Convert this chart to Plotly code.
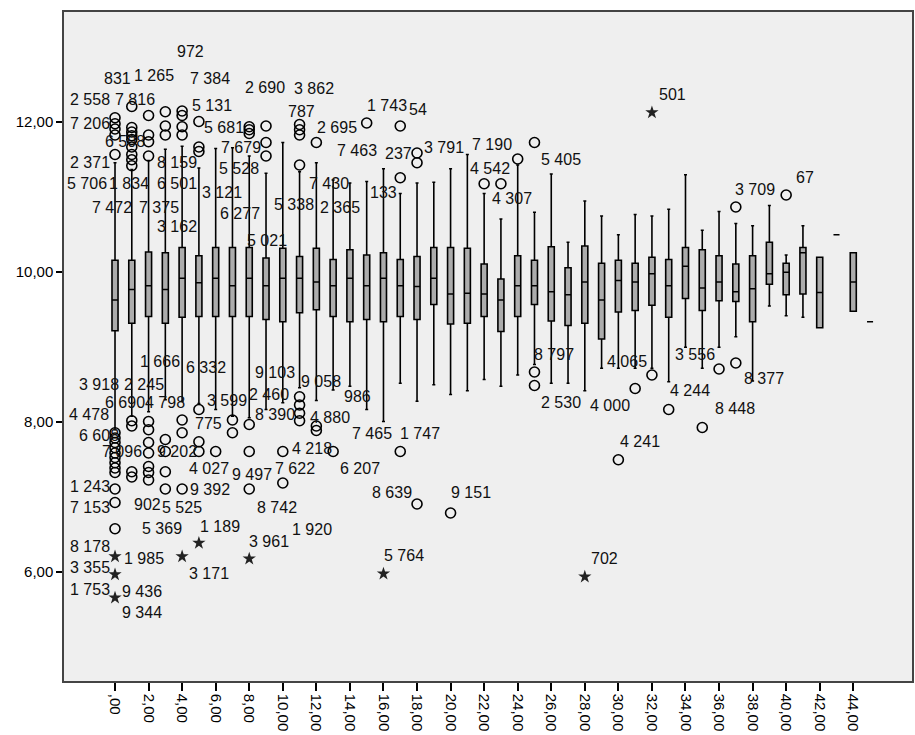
import plotly.graph_objects as go

# ---- data -------------------------------------------------------------
categories = list(range(46))
tick_vals = list(range(0, 45, 2))
tick_text = [",00"] + [f"{v},00" for v in range(2, 45, 2)]

q1 = [9.21, 9.31, 9.40, 9.31, 9.39, 9.40, 9.40, 9.40, 9.40, 9.36,
      9.33, 9.45, 9.49, 9.40, 9.33, 9.36, 9.33, 9.40, 9.36, 9.56,
      9.30, 9.31, 9.40, 9.20, 9.40, 9.56, 9.34, 9.28, 9.31, 9.10,
      9.46, 9.48, 9.55, 9.39, 9.64, 9.48, 9.61, 9.60, 9.33, 9.83,
      9.69, 9.70, 9.25, 10.49, 9.47, 9.33]
median = [9.62, 9.76, 9.81, 9.76, 9.91, 9.85, 9.91, 9.81, 9.91, 9.81,
          9.91, 9.91, 9.86, 9.81, 9.91, 9.81, 9.91, 9.81, 9.80, 9.91,
          9.70, 9.71, 9.70, 9.62, 9.81, 9.81, 9.73, 9.69, 9.86, 9.62,
          9.88, 9.86, 9.97, 9.81, 10.07, 9.78, 9.86, 9.73, 9.77, 9.97,
          9.99, 10.25, 9.72, 10.49, 9.86, 9.33]
q3 = [10.15, 10.15, 10.26, 10.25, 10.32, 10.21, 10.32, 10.32, 10.32, 10.18,
      10.31, 10.20, 10.31, 10.16, 10.29, 10.22, 10.25, 10.16, 10.20, 10.32,
      10.32, 10.31, 10.10, 9.90, 10.21, 10.15, 10.33, 10.05, 10.34, 10.11,
      10.15, 10.11, 10.19, 10.16, 10.32, 10.29, 10.21, 10.10, 10.21, 10.39,
      10.11, 10.32, 10.19, 10.49, 10.25, 9.33]
whisker_low = [7.89, 8.07, 8.13, 8.29, 8.27, 8.24, 8.16, 8.07, 8.05, 8.16,
               8.25, 8.45, 8.28, 8.42, 8.47, 8.16, 8.00, 8.51, 8.27, 8.49,
               8.36, 8.41, 8.56, 8.47, 8.62, 8.76, 8.51, 8.51, 8.41, 8.71,
               8.71, 8.71, 8.71, 8.53, 8.99, 8.71, 8.99, 9.13, 8.54, 9.54,
               9.41, 9.39, 9.25, 10.49, 9.47, 9.33]
whisker_high = [11.45, 11.36, 11.48, 11.63, 11.67, 11.38, 11.64, 11.65, 11.54, 11.31,
                11.72, 11.33, 11.45, 11.22, 11.18, 11.20, 11.37, 11.04, 11.18, 11.19,
                11.37, 11.56, 11.04, 10.70, 11.42, 10.79, 11.30, 10.39, 10.94, 10.74,
                10.49, 10.76, 10.74, 10.83, 11.29, 10.55, 10.80, 10.64, 10.61, 10.88,
                10.22, 10.61, 10.19, 10.49, 10.25, 9.33]

# outliers (circles)
outlier_cat = ([0] * 5 + [1] * 9 + [2] * 4 + [3] * 3 + [4] * 4 + [5] * 3 + [8] * 3 + [9] * 3
               + [11] * 4 + [12] + [15] + [17] * 2 + [18] * 2 + [22, 23, 24, 25, 37, 40]
               + [0] * 12 + [1] * 4 + [2] * 7 + [3] * 4 + [4] * 3 + [5] * 3 + [6] + [7] * 2
               + [8] * 3 + [10] * 2 + [11] * 4 + [12] * 2 + [13, 17, 18, 20] + [25] * 2
               + [30, 31, 32, 33, 35, 36, 37])
outlier_val = ([12.05, 11.97, 11.90, 11.82, 11.56]
               + [12.20, 11.92, 11.86, 11.81, 11.76, 11.66, 11.56, 11.49, 11.41]
               + [12.08, 11.82, 11.73, 11.54]
               + [12.13, 11.94, 11.82]
               + [12.14, 12.08, 11.93, 11.82]
               + [12.00, 11.66, 11.60]
               + [11.93, 11.89, 11.84]
               + [11.94, 11.72, 11.54]
               + [11.96, 11.89, 11.82, 11.42]
               + [11.72] + [11.98] + [11.94, 11.25] + [11.58, 11.45]
               + [11.17, 11.17, 11.50, 11.72, 10.86, 11.02]
               + [7.85, 7.78, 7.72, 7.65, 7.58, 7.52, 7.45, 7.38, 7.32, 7.10, 6.92, 6.57]
               + [8.01, 7.94, 7.33, 7.26]
               + [8.00, 7.89, 7.72, 7.58, 7.40, 7.32, 7.22]
               + [7.76, 7.60, 7.33, 7.10]
               + [8.02, 7.85, 7.10]
               + [8.16, 7.73, 7.60]
               + [7.60]
               + [8.02, 7.85]
               + [7.96, 7.60, 7.10]
               + [7.60, 7.18]
               + [8.33, 8.22, 8.11, 8.01]
               + [7.94, 7.88]
               + [7.60, 7.60, 6.90, 6.78]
               + [8.66, 8.48]
               + [7.49, 8.44, 8.62, 8.16, 7.92, 8.70, 8.78])

# extremes (stars)
extreme_cat = [0, 0, 0, 4, 5, 8, 16, 28, 32]
extreme_val = [6.20, 5.96, 5.65, 6.20, 6.38, 6.17, 5.97, 5.93, 12.12]

# case labels (text, x in category units, y in value units)
label_text = ["972", "831", "1 265", "7 384", "2 690", "3 862", "2 558", "7 816", "5 131", "787",
              "7 206", "5 681", "2 695", "6 508", "7 679", "7 463", "2 371", "8 159", "5 528",
              "5 706", "1 834", "6 501", "7 430", "3 121", "7 472", "7 375", "5 338", "2 365",
              "6 277", "3 162", "5 021", "1 743", "54", "237", "3 791", "7 190", "4 542", "5 405",
              "133", "4 307", "501", "3 709", "67",
              "1 666", "6 332", "9 103", "3 918", "2 245", "9 058", "986", "6 690", "4 798",
              "3 599", "2 460", "4 478", "8 390", "4 880", "775", "6 608", "7 096", "9 202",
              "4 218", "4 027", "9 497", "7 622", "6 207", "1 243", "9 392", "7 153", "902",
              "5 525", "8 742", "5 369", "1 189", "1 920", "3 961", "8 178", "1 985", "3 355",
              "3 171", "1 753", "9 436", "9 344", "7 465", "1 747", "8 639", "9 151", "5 764",
              "702", "8 797", "2 530", "4 000", "4 065", "3 556", "4 244", "8 377", "8 448", "4 241"]
label_x = [3.58, -0.78, 1.01, 4.35, 7.63, 10.55, -2.80, -0.12, 4.47, 10.20,
           -2.80, 5.19, 11.93, -0.72, 6.20, 13.12, -2.80, 2.39, 6.08,
           -2.98, -0.48, 2.39, 11.45, 5.07, -1.49, 1.31, 9.36, 12.10,
           6.14, 2.39, 7.75, 14.91, 17.41, 15.98, 18.31, 21.17, 21.05, 25.28,
           15.09, 22.36, 32.32, 36.83, 40.46,
           1.37, 4.11, 8.23, -2.27, 0.42, 10.97, 13.54, -0.72, 1.67,
           5.37, 7.87, -2.86, 8.23, 11.51, 4.65, -2.27, -0.89, 2.39,
           10.44, 4.29, 6.86, 9.42, 13.30, -2.80, 4.35, -2.80, 1.01,
           2.68, 8.35, 1.49, 4.95, 10.44, 7.87, -2.80, 0.42, -2.80,
           4.29, -2.80, 0.30, 0.30, 14.01, 16.88, 15.21, 19.92, 15.92,
           28.26, 24.87, 25.28, 28.21, 29.22, 33.27, 32.98, 37.39, 35.66, 29.99]
label_y = [12.93, 12.58, 12.61, 12.58, 12.46, 12.44, 12.30, 12.30, 12.22, 12.14,
           11.98, 11.92, 11.92, 11.73, 11.66, 11.62, 11.45, 11.45, 11.37,
           11.18, 11.18, 11.18, 11.18, 11.06, 10.86, 10.86, 10.90, 10.86,
           10.78, 10.60, 10.42, 12.22, 12.16, 11.57, 11.65, 11.69, 11.38, 11.50,
           11.05, 10.97, 12.36, 11.10, 11.25,
           8.80, 8.72, 8.65, 8.49, 8.49, 8.53, 8.33, 8.25, 8.25,
           8.28, 8.36, 8.09, 8.09, 8.05, 7.98, 7.81, 7.60, 7.60,
           7.64, 7.38, 7.29, 7.38, 7.38, 7.13, 7.10, 6.86, 6.89,
           6.86, 6.86, 6.57, 6.60, 6.56, 6.40, 6.33, 6.18, 6.05,
           5.98, 5.76, 5.74, 5.45, 7.84, 7.84, 7.06, 7.05, 6.21,
           6.17, 8.90, 8.25, 8.22, 8.80, 8.90, 8.41, 8.57, 8.17, 7.73]

# ---- figure -----------------------------------------------------------
fig = go.Figure()

fig.add_trace(go.Box(
    x=categories, q1=q1, median=median, q3=q3,
    lowerfence=whisker_low, upperfence=whisker_high,
    width=0.36, whiskerwidth=0.5,
    fillcolor="#acacac",
    line=dict(color="black", width=1.6),
    boxpoints=False, showlegend=False, hoverinfo="skip",
))

fig.add_trace(go.Scatter(
    x=outlier_cat, y=outlier_val, mode="markers",
    marker=dict(symbol="circle-open", size=10, color="black", line=dict(width=1.6)),
    showlegend=False, hoverinfo="skip",
))

fig.add_trace(go.Scatter(
    x=extreme_cat, y=extreme_val, mode="markers",
    marker=dict(symbol="star", size=10, color="#222222", line=dict(width=0)),
    showlegend=False, hoverinfo="skip",
))

for t, lx, ly in zip(label_text, label_x, label_y):
    fig.add_annotation(x=lx, y=ly, text=t, showarrow=False,
                       xanchor="left", yanchor="middle",
                       font=dict(family="Liberation Sans, Arial", size=16, color="#111111"))

fig.update_layout(
    width=915, height=735,
    margin=dict(l=64, r=3, t=12, b=54),
    paper_bgcolor="white",
    plot_bgcolor="#efefef",
    font=dict(family="Liberation Sans, Arial", size=14, color="black"),
)
fig.update_xaxes(
    range=[-3.04, 47.5], tickmode="array", tickvals=tick_vals, ticktext=tick_text,
    tickangle=90, ticks="outside", ticklen=8, tickwidth=1.5, tickcolor="black",
    showgrid=False, zeroline=False, showline=True, linecolor="#444444", linewidth=1.5,
    mirror=True, tickfont=dict(size=15), automargin=False,
)
fig.update_yaxes(
    range=[4.54, 13.46], tickmode="array", tickvals=[6, 8, 10, 12],
    ticktext=["6,00", "8,00", "10,00", "12,00"],
    ticks="outside", ticklen=6, tickwidth=1.5, tickcolor="black",
    showgrid=False, zeroline=False, showline=True, linecolor="#444444", linewidth=1.5,
    mirror=True, tickfont=dict(size=15), automargin=False,
)

fig.write_html(
    "out.html",
    config={"displayModeBar": False},
    post_script="document.body.style.margin='0';document.body.style.overflow='hidden';",
)
